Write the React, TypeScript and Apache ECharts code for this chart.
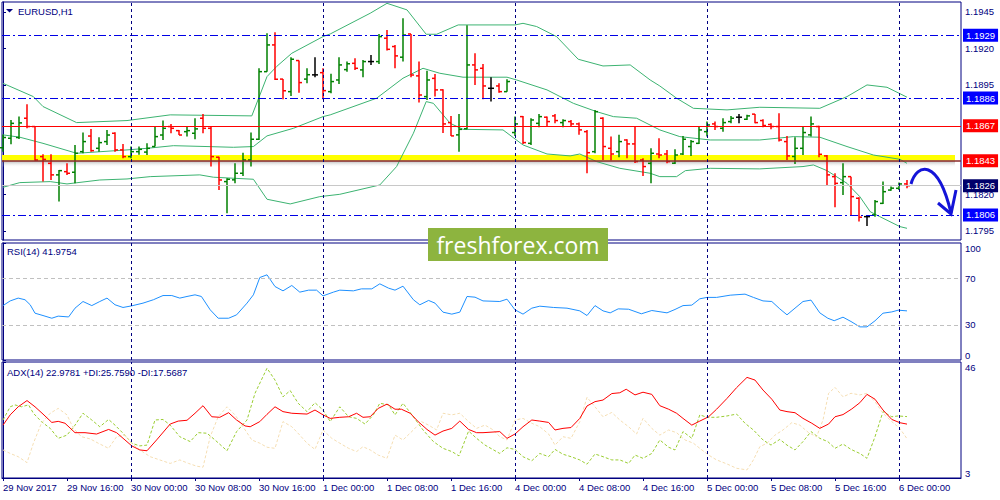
import React, { useEffect, useRef } from 'react';
import * as echarts from 'echarts';

// bar index of every time label on the bottom axis (8 H1 bars apart)
const tickBars = [0, 8, 16, 24, 32, 40, 48, 56, 64, 72, 80, 88, 96, 104, 112];
const tickLabels = [
  '29 Nov 2017', '29 Nov 16:00', '30 Nov 00:00', '30 Nov 08:00', '30 Nov 16:00',
  '1 Dec 00:00', '1 Dec 08:00', '1 Dec 16:00', '4 Dec 00:00', '4 Dec 08:00',
  '4 Dec 16:00', '5 Dec 00:00', '5 Dec 08:00', '5 Dec 16:00', '6 Dec 00:00',
];
const daySeparators = [16, 40, 64, 88, 112];

// EURUSD H1 bars
const open = [
  1.18520, 1.18585, 1.18590, 1.18722, 1.18665, 1.18459, 1.18413, 1.18334, 1.18356, 1.18352,
  1.18493, 1.18600, 1.18516, 1.18562, 1.18619, 1.18505, 1.18459, 1.18493, 1.18490, 1.18528,
  1.18607, 1.18665, 1.18637, 1.18630, 1.18619, 1.18722, 1.18653, 1.18455, 1.18288, 1.18300,
  1.18345, 1.18436, 1.18578, 1.19041, 1.19224, 1.18990, 1.18904, 1.19117, 1.18990, 1.19019,
  1.19034, 1.18904, 1.18984, 1.19055, 1.19098, 1.19053, 1.19110, 1.19110, 1.19270, 1.19213,
  1.19140, 1.19299, 1.19012, 1.18870, 1.18995, 1.18916, 1.18692, 1.18608, 1.18650, 1.19087,
  1.19064, 1.18927, 1.18943, 1.18904, 1.18624, 1.18733, 1.18550, 1.18687, 1.18729, 1.18738,
  1.18692, 1.18699, 1.18683, 1.18630, 1.18493, 1.18722, 1.18516, 1.18493, 1.18573, 1.18546,
  1.18436, 1.18413, 1.18477, 1.18477, 1.18414, 1.18477, 1.18528, 1.18550, 1.18630, 1.18683,
  1.18653, 1.18699, 1.18729, 1.18715, 1.18750, 1.18706, 1.18679, 1.18665, 1.18562, 1.18460,
  1.18516, 1.18608, 1.18665, 1.18464, 1.18322, 1.18281, 1.18322, 1.18174, 1.18048, 1.18060,
  1.18139, 1.18230, 1.18242, 1.18272,
];
const high = [
  1.18610, 1.18710, 1.18733, 1.18818, 1.18669, 1.18475, 1.18475, 1.18368, 1.18413, 1.18539,
  1.18624, 1.18649, 1.18592, 1.18642, 1.18626, 1.18546, 1.18528, 1.18528, 1.18550, 1.18669,
  1.18706, 1.18683, 1.18642, 1.18669, 1.18722, 1.18751, 1.18665, 1.18459, 1.18311, 1.18413,
  1.18486, 1.18624, 1.19064, 1.19304, 1.19311, 1.18990, 1.19140, 1.19117, 1.19064, 1.19140,
  1.19064, 1.19026, 1.19140, 1.19110, 1.19133, 1.19121, 1.19155, 1.19299, 1.19327, 1.19224,
  1.19407, 1.19299, 1.19110, 1.19048, 1.19025, 1.18920, 1.18738, 1.18751, 1.19359, 1.19167,
  1.19094, 1.19003, 1.18961, 1.18989, 1.18733, 1.18738, 1.18722, 1.18751, 1.18733, 1.18751,
  1.18715, 1.18710, 1.18692, 1.18642, 1.18779, 1.18729, 1.18596, 1.18608, 1.18578, 1.18665,
  1.18448, 1.18516, 1.18585, 1.18505, 1.18509, 1.18600, 1.18573, 1.18665, 1.18699, 1.18699,
  1.18722, 1.18738, 1.18751, 1.18745, 1.18751, 1.18715, 1.18687, 1.18756, 1.18600, 1.18592,
  1.18665, 1.18733, 1.18670, 1.18470, 1.18345, 1.18413, 1.18322, 1.18180, 1.18060, 1.18162,
  1.18288, 1.18254, 1.18281, 1.18299,
];
const low = [
  1.18493, 1.18544, 1.18580, 1.18653, 1.18430, 1.18288, 1.18299, 1.18151, 1.18334, 1.18276,
  1.18482, 1.18493, 1.18493, 1.18539, 1.18493, 1.18448, 1.18448, 1.18471, 1.18470, 1.18528,
  1.18573, 1.18619, 1.18607, 1.18596, 1.18578, 1.18619, 1.18391, 1.18231, 1.18071, 1.18276,
  1.18327, 1.18391, 1.18573, 1.19040, 1.18984, 1.18852, 1.18875, 1.18897, 1.18961, 1.19003,
  1.18852, 1.18893, 1.18956, 1.19040, 1.19053, 1.19003, 1.19087, 1.19094, 1.19185, 1.19064,
  1.19110, 1.19003, 1.18829, 1.18847, 1.18870, 1.18620, 1.18601, 1.18493, 1.18646, 1.18950,
  1.18852, 1.18836, 1.18897, 1.18904, 1.18600, 1.18546, 1.18539, 1.18660, 1.18665, 1.18687,
  1.18660, 1.18669, 1.18608, 1.18345, 1.18482, 1.18436, 1.18432, 1.18455, 1.18448, 1.18416,
  1.18327, 1.18276, 1.18448, 1.18413, 1.18409, 1.18470, 1.18464, 1.18546, 1.18596, 1.18642,
  1.18630, 1.18687, 1.18687, 1.18710, 1.18687, 1.18660, 1.18646, 1.18562, 1.18436, 1.18409,
  1.18470, 1.18596, 1.18455, 1.18258, 1.18112, 1.18197, 1.18060, 1.18015, 1.17984, 1.18048,
  1.18135, 1.18226, 1.18230, 1.18242,
];
const close = [
  1.18590, 1.18687, 1.18690, 1.18665, 1.18436, 1.18440, 1.18334, 1.18363, 1.18345, 1.18482,
  1.18562, 1.18500, 1.18555, 1.18607, 1.18505, 1.18459, 1.18493, 1.18509, 1.18516, 1.18596,
  1.18653, 1.18653, 1.18607, 1.18637, 1.18649, 1.18653, 1.18459, 1.18299, 1.18304, 1.18345,
  1.18436, 1.18578, 1.19041, 1.19224, 1.18989, 1.18910, 1.19126, 1.18966, 1.19020, 1.19019,
  1.18911, 1.18973, 1.19087, 1.19095, 1.19064, 1.19110, 1.19110, 1.19281, 1.19194, 1.19149,
  1.19292, 1.19018, 1.18881, 1.18984, 1.18916, 1.18683, 1.18601, 1.18646, 1.19087, 1.19053,
  1.18943, 1.18927, 1.18904, 1.18973, 1.18683, 1.18555, 1.18710, 1.18733, 1.18699, 1.18706,
  1.18706, 1.18683, 1.18642, 1.18486, 1.18767, 1.18528, 1.18477, 1.18562, 1.18546, 1.18425,
  1.18391, 1.18482, 1.18470, 1.18425, 1.18470, 1.18578, 1.18562, 1.18642, 1.18676, 1.18665,
  1.18692, 1.18722, 1.18729, 1.18738, 1.18692, 1.18672, 1.18665, 1.18573, 1.18464, 1.18516,
  1.18624, 1.18683, 1.18475, 1.18334, 1.18276, 1.18322, 1.18185, 1.18044, 1.18048, 1.18151,
  1.18219, 1.18243, 1.18272, 1.18260,
];

// Bollinger bands, [bar, price]
const bbUpper = [
  [0, 1.18961], [3.8, 1.18870], [5, 1.18802], [9.2, 1.18692], [15.5, 1.18706], [20.9, 1.18745],
  [31.1, 1.18738], [33, 1.19007], [34.2, 1.19076], [36.1, 1.19167], [40, 1.19281], [40.9, 1.19299],
  [45.9, 1.19441], [48, 1.19509], [50.5, 1.19464], [52.9, 1.19297], [54.2, 1.19297], [56.9, 1.19361],
  [64, 1.19361], [65, 1.19372], [66.7, 1.19350], [69.2, 1.19281], [71.9, 1.19126], [75, 1.19080],
  [78.4, 1.19087], [80.9, 1.18984], [82.1, 1.18943], [84.2, 1.18859], [86.3, 1.18790], [90.5, 1.18779],
  [94.6, 1.18797], [102.1, 1.18790], [105.5, 1.18870], [108, 1.18950], [110.5, 1.18934], [113, 1.18866],
];
const bbMiddle = [
  [0, 1.18608], [2.1, 1.18592], [5, 1.18550], [9.2, 1.18482], [15.5, 1.18505], [18, 1.18516],
  [21.3, 1.18534], [25.5, 1.18528], [28.8, 1.18523], [31.3, 1.18528], [33, 1.18601], [36.3, 1.18653],
  [40, 1.18733], [40.9, 1.18745], [46.7, 1.18859], [50, 1.18996], [52.5, 1.19064], [54.6, 1.19030],
  [57.5, 1.19003], [63, 1.19003], [64.2, 1.18984], [68, 1.18916], [71.3, 1.18824], [74.2, 1.18767],
  [76.3, 1.18733], [79.2, 1.18722], [82.1, 1.18642], [84.6, 1.18596], [88.4, 1.18573], [94.6, 1.18573],
  [98.8, 1.18596], [102.1, 1.18592], [105.5, 1.18528], [108.8, 1.18470], [112.1, 1.18441], [113, 1.18413],
];
const bbLower = [
  [0, 1.18249], [2.1, 1.18281], [5.9, 1.18288], [8, 1.18272], [12.1, 1.18299], [15.5, 1.18306],
  [18.4, 1.18322], [24.6, 1.18334], [26.3, 1.18318], [31.3, 1.18304], [33, 1.18167], [35.9, 1.18135],
  [39.6, 1.18185], [42.1, 1.18201], [47.1, 1.18265], [49.2, 1.18391], [51.3, 1.18619], [52.9, 1.18836],
  [53.8, 1.18824], [55.9, 1.18687], [57.5, 1.18646], [62.5, 1.18642], [65, 1.18539], [68, 1.18477],
  [70.9, 1.18464], [72.1, 1.18477], [74.2, 1.18425], [77.1, 1.18379], [80.9, 1.18345], [82.1, 1.18322],
  [84.2, 1.18322], [85.3, 1.18363], [88.4, 1.18379], [94.6, 1.18375], [100, 1.18391], [101.3, 1.18402],
  [103, 1.18363], [105.5, 1.18276], [107.1, 1.18185], [108.4, 1.18082], [109.6, 1.18048], [112.1, 1.17980],
  [113, 1.17968],
];

// RSI(14), [bar, value]
const rsi = [
  [0, 46.5], [0.9, 50.5], [1.9, 52.9], [2.75, 51.5], [3.4, 47.2], [4, 40], [5, 38], [6.1, 35.7],
  [6.9, 37.5], [8.2, 36.8], [9, 44.3], [10, 50], [11.1, 46.5], [12.1, 50], [13, 52.9], [14, 47.2],
  [15, 44.9], [16.1, 46.3], [17.5, 48.6], [18.8, 51.5], [20, 55.1], [21.1, 55.1], [22.1, 52.9],
  [23, 54.3], [24, 55.7], [24.8, 54.3], [25.9, 42.9], [26.9, 35.7], [28.2, 35.7], [29.2, 38.6],
  [30.5, 48.6], [31.3, 55.7], [32.1, 70.5], [33, 72.8], [34, 62.8], [35, 59.1], [36.1, 63.7],
  [37.1, 58], [38.2, 59.7], [39.2, 59.7], [40, 54.8], [41.3, 58], [42.1, 59.7], [43.8, 59.1],
  [44.8, 60.8], [46.1, 60.8], [47.1, 65.1], [48.2, 61.4], [49, 59.7], [50, 63.1], [51.3, 51.5],
  [52.1, 47.2], [53.2, 50.9], [54, 48.6], [55, 40.9], [56.1, 39.2], [57.1, 40.9], [58, 54.3],
  [59, 53.7], [60, 50.5], [62.1, 50], [63, 52], [64, 42.9], [65, 39.2], [66.1, 44.3], [67.1, 46],
  [68.8, 44.9], [70.5, 44.3], [72.1, 42], [73, 38], [74, 46.5], [75, 42], [75.9, 40.3], [76.9, 43.7],
  [78.2, 43.4], [79.8, 39.5], [81.1, 42.3], [83, 40.3], [84, 43.2], [85, 46.5], [86.1, 46.9],
  [87.1, 52.3], [88, 53.5], [89.2, 53.5], [90.9, 55.4], [92.75, 56.3], [93.8, 53.5], [95, 50.5],
  [96.1, 50], [97.1, 43.7], [98, 38.6], [99, 44.3], [100, 50], [101, 51.2], [102.1, 40.3],
  [103.1, 35.7], [103.9, 33.6], [105, 36.6], [106, 32.9], [107.1, 28.3], [108, 28.3], [109, 33.5],
  [110, 40], [111.1, 41.1], [111.9, 42.6], [113, 41.98],
];

// ADX(14) with +DI / -DI, [bar, value]
const adx = [
  [0, 22.6], [0.9, 26.4], [1.9, 29.4], [3, 31.7], [4, 29.4], [5, 26.7], [6.1, 23.6], [6.9, 24],
  [7.75, 23.3], [9, 19.8], [10.25, 19.8], [11.7, 19.3], [13.2, 21], [14.2, 19.8], [16.1, 14.9],
  [17.1, 13.4], [18, 13.1], [19.2, 17.1], [20.9, 23], [21.9, 24.1], [23, 24.4], [24, 27], [25, 29.8],
  [26.1, 25.7], [27.1, 25.5], [28.2, 27.2], [29.2, 24.5], [30.25, 22.3], [30.9, 22], [32.1, 23.9],
  [33, 26.6], [34, 29.4], [35, 27.6], [36.1, 27], [38, 26.7], [39, 28.2], [40, 26.4], [40.9, 25.1],
  [42.1, 25.5], [43.2, 25.7], [44.2, 27], [45, 25.5], [45.9, 25.7], [46.9, 28.8], [48, 30.4],
  [49, 28.5], [49.8, 28.5], [50.9, 27], [51.9, 23.9], [53, 21], [54, 18.9], [55, 20.4], [56.1, 21.4],
  [57.1, 24.1], [58.2, 21], [59.2, 19.8], [60, 19.8], [62.1, 20.2], [63, 17.7], [64, 19.3], [65, 22],
  [66.1, 24.5], [67.1, 24.1], [68.2, 23.6], [69, 20.8], [70, 21.4], [71, 21.7], [72.1, 25.1],
  [73, 29.7], [74, 31.3], [75, 31.9], [76.1, 34.3], [77.1, 34.6], [77.9, 35.9], [79, 33.8], [80, 34.8],
  [81.1, 34], [82.1, 29.8], [83.2, 28.5], [84.2, 27], [85, 25.1], [86.1, 22.6], [87.1, 24.1],
  [88.2, 25.7], [89.2, 28.5], [90.5, 32.5], [91.7, 36.5], [93, 40.3], [94, 39.3], [95, 35.6],
  [96.1, 32.2], [97.1, 28.2], [98, 27.6], [99, 27.2], [100, 25.1], [101.1, 23.3], [102.1, 21.4],
  [103.2, 23], [104, 25.7], [105, 26.5], [106.1, 28.6], [107.1, 30.9], [108, 34], [109, 32.2],
  [110, 28.2], [111.1, 24.7], [112.1, 23.5], [113, 22.98],
];
const plusDi = [
  [0, 24.5], [0.9, 29.4], [1.5, 30.1], [2.3, 29.4], [3.2, 30.1], [3.8, 27], [4.8, 23.9], [5.9, 21.4],
  [6.9, 17.7], [8, 18.9], [9, 22.6], [10, 27], [11.1, 24.5], [12.1, 22], [13.2, 24.7], [14, 22.6],
  [15, 19.6], [16.1, 15.9], [17.1, 14.9], [18, 15.2], [19, 24.5], [20, 24.7], [20.9, 22.6],
  [22.1, 18.3], [23.4, 16.5], [24.4, 19.8], [25.5, 19.6], [26.5, 17.1], [28, 13.1], [29.2, 20.2],
  [30.5, 24.5], [31.5, 34.4], [33, 43.7], [34, 39.3], [35, 33.1], [35.9, 35.4], [36.9, 30.7],
  [38, 27.6], [39, 30.9], [40, 28.2], [40.9, 23.9], [42.1, 29.4], [43.2, 25.7], [44.2, 25.1],
  [45.25, 23], [46.3, 26.4], [47.1, 30.7], [48.2, 30.1], [49, 26.4], [50, 30.7], [51.3, 25.7],
  [52.5, 20.8], [53.8, 16.5], [55, 14], [56.1, 12.8], [57, 11.2], [58.2, 20.4], [59.2, 17.7],
  [60.25, 15.2], [62.1, 12.1], [63, 14.2], [64, 13.6], [65, 10.9], [66.1, 9.4], [67.1, 12.1],
  [68.2, 10.9], [69, 13.6], [70, 11.8], [71, 10.9], [72.1, 9.7], [73, 8.1], [74, 11.9], [75, 10.9],
  [76.1, 9.7], [77.1, 9.7], [78.2, 8.4], [79, 11.5], [80, 10.3], [81.1, 12.1], [82.1, 17.1],
  [83.2, 14.4], [84, 13.4], [85, 20.2], [86.1, 17.7], [87.1, 26.4], [88, 25.5], [89.2, 25.5],
  [90.5, 26], [91.7, 26.7], [92.75, 23.3], [93.8, 20.8], [95, 17.1], [96, 15.2], [97.1, 17.3],
  [98, 15.2], [99, 13.4], [100, 16.5], [101, 20.2], [102.1, 17.7], [103.1, 16.5], [104, 14],
  [105, 15.6], [106, 13.6], [107.1, 12.1], [108, 10.3], [109, 18.3], [110, 27.6], [111.1, 25.7],
  [111.9, 26], [113, 25.76],
];
const minusDi = [
  [0, 13.4], [0.9, 12.1], [1.9, 10.9], [3, 8.7], [3.8, 15.9], [4.8, 23.3], [5.9, 27], [6.9, 28.8],
  [8, 26.4], [8.8, 21.4], [9.8, 18.3], [10.9, 17.5], [11.9, 15.9], [13.2, 14], [14.2, 18.3],
  [15.25, 18.9], [16.1, 15.9], [17.1, 13.4], [18.4, 10.9], [19.6, 9.7], [20.9, 8.4], [22.1, 9.7],
  [23.2, 8.4], [24.2, 7.4], [25, 7], [25.9, 18.3], [26.9, 25.7], [28, 29.4], [29, 26.4], [30, 22],
  [31.1, 17.1], [32.1, 15.9], [33, 14.4], [34, 14], [35, 23.9], [36.1, 22], [37.1, 18.9], [38, 15.9],
  [39, 13.6], [40, 20.8], [41.1, 17.7], [42.1, 15.9], [43.2, 14], [44.2, 12.8], [45, 14.6],
  [45.9, 13.4], [46.9, 11.5], [48, 10.3], [49, 18.9], [50, 17.1], [51.3, 20.8], [52.3, 23.9],
  [53.2, 22.6], [54.2, 20.8], [55, 27], [56.1, 26.4], [57.1, 27], [58.2, 23.9], [59.2, 21.4],
  [60.25, 22.6], [61.3, 20.8], [62.1, 18.3], [63, 17.1], [64, 24.5], [65, 25.1], [66.1, 23.3],
  [67.1, 22], [68.2, 19.3], [69, 15.2], [70, 18.3], [71, 17.7], [72.1, 23.9], [73, 32.9], [74, 29.4],
  [75, 25.7], [76.1, 27.3], [77.1, 24.5], [78.2, 22], [79.2, 19.3], [80, 25.1], [81.1, 21.4],
  [82.1, 18.9], [83.2, 20.8], [84.2, 19.8], [85.25, 17.1], [86.3, 15.9], [87.1, 14], [88.2, 11.5],
  [89.2, 9.7], [90.5, 8.2], [91.7, 6.6], [93, 6], [93.8, 9.7], [94.6, 14.6], [95.5, 15.9],
  [96.5, 18.9], [97.5, 20.8], [98.6, 23.5], [99.6, 22.6], [100.7, 19.8], [101.7, 18.3], [102.5, 24.5],
  [103.2, 34.4], [104, 36.6], [105, 33.1], [106, 34.4], [107.1, 33.8], [108, 34.4], [109, 31.3],
  [110, 27], [111.1, 23.9], [112.1, 21.4], [113, 17.57],
];

const priceTicks = [1.1795, 1.182, 1.1895, 1.192, 1.1945];
const blueLevels = [1.1929, 1.1886, 1.1806];
const redLevel = 1.1867;
const yellowLevel = 1.1843;
const rsiLevels = [30, 70];
const rsiTicks = [0, 30, 70, 100];
const adxTicks = [3, 46];

const NAVY = '#000080';
const FONT = '"Liberation Sans", Arial, sans-serif';
const UP = '#008000';
const DOWN = '#ff0000';
const DOJI = '#000000';

const renderBar = (_params: any, api: any) => {
  const i = api.value(0);
  const o = api.value(1);
  const c = api.value(4);
  const top = api.coord([i, api.value(2)]);
  const bot = api.coord([i, api.value(3)]);
  const po = api.coord([i, o]);
  const pc = api.coord([i, c]);
  const color = c > o ? UP : c < o ? DOWN : DOJI;
  const x = Math.round(top[0]);
  const style = { stroke: color, lineWidth: 1.5 };
  return {
    type: 'group',
    children: [
      { type: 'line', shape: { x1: x, y1: top[1], x2: x, y2: bot[1] }, style },
      { type: 'line', shape: { x1: x - 3, y1: po[1], x2: x, y2: po[1] }, style },
      { type: 'line', shape: { x1: x, y1: pc[1], x2: x + 3, y2: pc[1] }, style },
    ],
  };
};

const levelLine = (value: number, color: string, type: any, box: string, width = 1) => ({
  yAxis: value,
  lineStyle: { color, type, width },
  label: {
    show: true,
    position: 'end',
    formatter: value.toFixed(4),
    backgroundColor: box,
    color: '#ffffff',
    padding: [2, 3, 1, 3],
    fontSize: 9.5,
    fontFamily: FONT,
    distance: 2,
  },
});

const separators = daySeparators.map((b) => ({ xAxis: b }));
const sepStyle = { color: NAVY, type: [3, 3], width: 1 };

const xBase = (gridIndex: number) => ({
  type: 'value',
  gridIndex,
  min: -0.125,
  max: 119.75,
  axisLine: { show: false },
  axisTick: { show: false },
  axisLabel: { show: false },
  splitLine: { show: false },
});

const yLabel = (values: number[], fmt: (v: number) => string) => ({
  customValues: values,
  formatter: fmt,
  color: NAVY,
  fontSize: 9.5,
  fontFamily: FONT,
  margin: 4,
  verticalAlignMinLabel: 'bottom',
  verticalAlignMaxLabel: 'top',
});

const panelTitle = (text: string, left: number, top: number) => ({
  text,
  left,
  top,
  padding: 0,
  textStyle: { fontSize: 9.5, fontWeight: 'normal', color: NAVY, fontFamily: FONT },
});

export default function App() {
  const ref = useRef<HTMLDivElement>(null);

  useEffect(() => {
    if (!ref.current) return;
    const chart = echarts.init(ref.current, null, { renderer: 'svg' });
    const bars = open.map((o, i) => [i, o, high[i], low[i], close[i]]);
    const bid = close[close.length - 1];

    const option: any = {
      animation: false,
      backgroundColor: '#ffffff',
      textStyle: { fontFamily: FONT },
      title: [
        panelTitle('EURUSD,H1', 18, 6),
        panelTitle('RSI(14) 41.9754', 7, 246),
        panelTitle('ADX(14) 22.9781 +DI:25.7590 -DI:17.5687', 7, 367),
      ],
      grid: [
        { left: 2, top: 2, width: 959, height: 238, show: true, borderColor: NAVY, borderWidth: 1, backgroundColor: '#ffffff' },
        { left: 2, top: 243, width: 959, height: 117, show: true, borderColor: NAVY, borderWidth: 1, backgroundColor: '#ffffff' },
        { left: 2, top: 362, width: 959, height: 116, show: true, borderColor: NAVY, borderWidth: 1, backgroundColor: '#ffffff' },
      ],
      xAxis: [
        xBase(0),
        xBase(1),
        {
          ...xBase(2),
          axisLine: { show: true, lineStyle: { color: NAVY } },
          axisTick: { show: true, customValues: tickBars, length: 3, lineStyle: { color: NAVY } },
          axisLabel: {
            show: true,
            customValues: tickBars,
            formatter: (v: number) => tickLabels[tickBars.indexOf(v)] ?? '',
            align: 'left',
            margin: 4,
            color: NAVY,
            fontSize: 9.5,
            fontFamily: FONT,
          },
        },
      ],
      yAxis: [
        {
          type: 'value', gridIndex: 0, position: 'right', min: 1.17888, max: 1.19518,
          axisLine: { show: true, lineStyle: { color: NAVY } },
          axisTick: { show: true, customValues: priceTicks, length: 3, lineStyle: { color: NAVY } },
          axisLabel: { ...yLabel(priceTicks, (v) => v.toFixed(4)), verticalAlignMinLabel: 'middle', verticalAlignMaxLabel: 'middle' },
          splitLine: { show: false },
        },
        {
          type: 'value', gridIndex: 1, position: 'right', min: 0, max: 100,
          axisLine: { show: true, lineStyle: { color: NAVY } },
          axisTick: { show: true, customValues: rsiTicks, length: 3, lineStyle: { color: NAVY } },
          axisLabel: yLabel(rsiTicks, (v) => String(v)),
          splitLine: { show: false },
        },
        {
          type: 'value', gridIndex: 2, position: 'right', min: 3, max: 46,
          axisLine: { show: true, lineStyle: { color: NAVY } },
          axisTick: { show: true, customValues: adxTicks, length: 3, lineStyle: { color: NAVY } },
          axisLabel: yLabel(adxTicks, (v) => String(v)),
          splitLine: { show: false },
        },
      ],
      series: [
        {
          // upper band also carries the hand-drawn levels
          name: 'upper',
          type: 'line',
          z: 1,
          xAxisIndex: 0,
          yAxisIndex: 0,
          data: bbUpper,
          showSymbol: false,
          lineStyle: { color: '#3cb371', width: 1 },
          markArea: {
            silent: true,
            data: [
              [
                {
                  xAxis: -0.125,
                  yAxis: yellowLevel - 0.00045,
                  itemStyle: {
                    color: new echarts.graphic.LinearGradient(0, 0, 0, 1, [
                      { offset: 0, color: 'rgba(90,90,90,0.45)' },
                      { offset: 1, color: 'rgba(255,255,255,0)' },
                    ]),
                  },
                },
                { xAxis: 119, yAxis: yellowLevel },
              ],
              [
                { xAxis: -0.125, yAxis: yellowLevel + 0.00003, itemStyle: { color: '#ffff00' } },
                { xAxis: 119, yAxis: yellowLevel + 0.0004 },
              ],
            ],
          },
          markLine: {
            silent: true,
            symbol: 'none',
            precision: 5,
            data: [
              ...blueLevels.map((v) => levelLine(v, '#0000e6', [8, 3, 2, 3], '#0000ff')),
              levelLine(redLevel, '#ff0000', 'solid', '#ff0000'),
              levelLine(yellowLevel, '#8b2a2a', 'solid', '#ff0000', 1.5),
              levelLine(bid, '#c8c8c8', 'solid', '#00006a'),
            ],
          },
        },
        { name: 'middle', type: 'line', z: 2, xAxisIndex: 0, yAxisIndex: 0, data: bbMiddle, showSymbol: false, lineStyle: { color: '#3cb371', width: 1 } },
        { name: 'lower', type: 'line', z: 2, xAxisIndex: 0, yAxisIndex: 0, data: bbLower, showSymbol: false, lineStyle: { color: '#3cb371', width: 1 } },
        {
          name: 'EURUSD',
          type: 'custom',
          z: 3,
          xAxisIndex: 0,
          yAxisIndex: 0,
          renderItem: renderBar,
          encode: { x: 0, y: [1, 2, 3, 4] },
          data: bars,
          markLine: { silent: true, symbol: 'none', label: { show: false }, lineStyle: sepStyle, data: separators },
        },
        {
          name: 'RSI',
          type: 'line',
          xAxisIndex: 1,
          yAxisIndex: 1,
          data: rsi,
          showSymbol: false,
          lineStyle: { color: '#1e90ff', width: 1 },
          markLine: {
            silent: true,
            symbol: 'none',
            label: { show: false },
            data: [
              ...separators.map((d) => ({ ...d, lineStyle: sepStyle })),
              ...rsiLevels.map((v) => ({ yAxis: v, lineStyle: { color: '#c0c0c0', type: [4, 3], width: 1 } })),
            ],
          },
        },
        {
          name: '+DI',
          type: 'line',
          xAxisIndex: 2,
          yAxisIndex: 2,
          data: plusDi,
          showSymbol: false,
          lineStyle: { color: '#9acd32', width: 1, type: [3, 2] },
          markLine: { silent: true, symbol: 'none', label: { show: false }, lineStyle: sepStyle, data: separators },
        },
        { name: '-DI', type: 'line', xAxisIndex: 2, yAxisIndex: 2, data: minusDi, showSymbol: false, lineStyle: { color: '#f5deb3', width: 1, type: [3, 2] } },
        { name: 'ADX', type: 'line', xAxisIndex: 2, yAxisIndex: 2, data: adx, showSymbol: false, lineStyle: { color: '#ff0000', width: 1 } },
      ],
      graphic: [
        { type: 'polygon', z: 100, shape: { points: [[6, 9], [13, 9], [9.5, 12.5]] }, style: { fill: NAVY } },
        { type: 'rect', z: 100, shape: { x: 428, y: 228, width: 180, height: 33 }, style: { fill: '#8db43f' } },
        {
          type: 'text', z: 101, x: 518, y: 245,
          style: { text: 'freshforex.com', fill: '#ffffff', font: '23px "Open Sans", sans-serif', align: 'center', verticalAlign: 'middle' },
        },
        {
          type: 'bezierCurve', z: 100,
          shape: { x1: 911, y1: 184, cpx1: 917, cpy1: 163, cpx2: 938, cpy2: 158, x2: 951, y2: 213 },
          style: { stroke: '#1414d8', lineWidth: 3, fill: 'none' },
        },
        {
          type: 'polyline', z: 100,
          shape: { points: [[938, 203], [951, 214], [956, 190]] },
          style: { stroke: '#1414d8', lineWidth: 3, fill: 'none' },
        },
      ],
    };

    chart.setOption(option);
    return () => chart.dispose();
  }, []);

  return <div ref={ref} style={{ position: 'absolute', left: 0, top: 0, width: 1000, height: 500, background: '#ffffff' }} />;
}
